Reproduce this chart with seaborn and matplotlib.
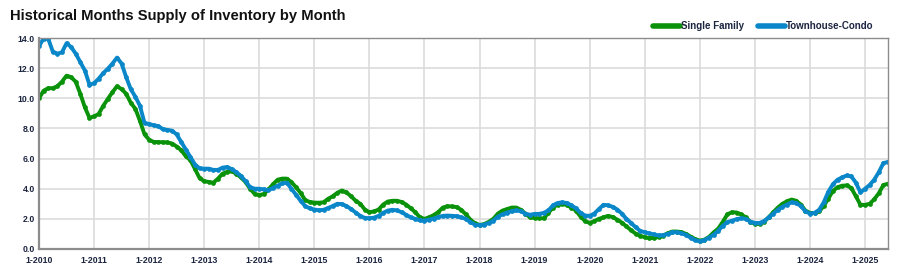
import numpy as np
import pandas as pd
import matplotlib
matplotlib.use("Agg")
import matplotlib.pyplot as plt
from matplotlib.lines import Line2D
import seaborn as sns

# Monthly values, Jan 2010 .. Jun 2025
single_family = [
    10.0, 10.5, 10.67, 10.67, 10.8, 11.1, 11.5, 11.4, 11.1, 10.3, 9.4, 8.7,
    8.8, 8.96, 9.5, 9.96, 10.4, 10.8, 10.6, 10.3, 9.7, 9.3, 8.5, 7.6,
    7.25, 7.1, 7.1, 7.08, 7.07, 7.0, 6.8, 6.55, 6.15, 5.9, 5.3, 4.7,
    4.5, 4.45, 4.4, 4.67, 5.0, 5.12, 5.15, 5.0, 4.75, 4.44, 4.0, 3.65,
    3.58, 3.65, 3.95, 4.3, 4.6, 4.67, 4.67, 4.44, 4.1, 3.72, 3.25, 3.12,
    3.08, 3.07, 3.1, 3.33, 3.5, 3.73, 3.88, 3.75, 3.5, 3.2, 3.0, 2.62,
    2.44, 2.49, 2.62, 2.95, 3.15, 3.2, 3.2, 3.12, 2.95, 2.7, 2.44, 2.1,
    2.0, 2.1, 2.25, 2.45, 2.75, 2.84, 2.82, 2.78, 2.6, 2.3, 1.95, 1.7,
    1.6, 1.65, 1.8, 2.0, 2.35, 2.55, 2.65, 2.75, 2.75, 2.6, 2.35, 2.1,
    2.05, 2.04, 2.04, 2.4, 2.75, 2.95, 3.0, 2.92, 2.75, 2.55, 2.15, 1.85,
    1.73, 1.85, 2.0, 2.1, 2.2, 2.12, 1.95, 1.75, 1.5, 1.25, 1.02, 0.88,
    0.78, 0.72, 0.74, 0.8, 0.88, 1.05, 1.16, 1.16, 1.12, 1.0, 0.82, 0.65,
    0.56, 0.62, 0.8, 1.1, 1.35, 1.8, 2.3, 2.44, 2.42, 2.3, 2.1, 1.8,
    1.68, 1.67, 1.8, 2.1, 2.44, 2.75, 3.0, 3.17, 3.28, 3.2, 2.95, 2.55,
    2.4, 2.38, 2.49, 2.85, 3.35, 3.85, 4.1, 4.2, 4.22, 4.05, 3.5, 2.93,
    2.93, 3.0, 3.3, 3.7, 4.25, 4.33,
]
townhouse_condo = [
    13.47, 13.95, 13.96, 13.1, 12.96, 13.05, 13.65, 13.4, 12.96, 12.4, 11.84, 10.9,
    11.0, 11.3, 11.67, 11.96, 12.3, 12.7, 12.3, 11.4, 10.6, 10.1, 9.5, 8.35,
    8.3, 8.2, 8.15, 7.95, 7.9, 7.85, 7.6, 7.1, 6.6, 6.1, 5.6, 5.35,
    5.33, 5.33, 5.25, 5.25, 5.4, 5.44, 5.3, 5.1, 4.85, 4.5, 4.1, 4.0,
    4.0, 3.95, 3.9, 4.05, 4.2, 4.35, 4.4, 4.0, 3.6, 3.2, 2.85, 2.7,
    2.62, 2.57, 2.6, 2.72, 2.85, 3.0, 2.98, 2.85, 2.65, 2.42, 2.2, 2.06,
    2.04, 2.08, 2.2, 2.4, 2.55, 2.6, 2.56, 2.44, 2.27, 2.1, 2.0, 1.9,
    1.89, 1.95, 2.02, 2.12, 2.2, 2.22, 2.2, 2.18, 2.1, 2.0, 1.78, 1.62,
    1.57, 1.62, 1.72, 1.88, 2.15, 2.3, 2.42, 2.5, 2.56, 2.5, 2.35, 2.27,
    2.33, 2.33, 2.4, 2.56, 2.9, 3.05, 3.1, 3.05, 2.9, 2.7, 2.4, 2.22,
    2.2, 2.35, 2.65, 2.93, 2.9, 2.8, 2.62, 2.35, 2.0, 1.72, 1.45, 1.2,
    1.11, 1.03, 0.97, 0.9, 0.92, 1.0, 1.11, 1.11, 1.05, 0.93, 0.75, 0.58,
    0.5, 0.6, 0.75, 0.95, 1.2, 1.55, 1.78, 1.88, 1.98, 2.04, 2.0, 1.82,
    1.73, 1.73, 1.85, 2.1, 2.35, 2.6, 2.8, 2.95, 3.1, 3.05, 2.85, 2.5,
    2.35, 2.4, 2.6, 3.1, 3.8, 4.3, 4.6, 4.75, 4.88, 4.82, 4.4, 3.75,
    4.0, 4.25, 4.6, 5.1, 5.7, 5.78,
]
series_names = ["Single Family", "Townhouse-Condo"]
years = list(range(2010, 2026))
x_tick_labels = [f"1-{y}" for y in years]
y_ticks = [0, 2, 4, 6, 8, 10, 12, 14]

colors = {"Single Family": "#0a930a", "Townhouse-Condo": "#0a87c9"}

months = np.arange(len(single_family))
df = pd.concat([
    pd.DataFrame({"month": months, "value": single_family, "series": series_names[0]}),
    pd.DataFrame({"month": months, "value": townhouse_condo, "series": series_names[1]}),
])

sns.set_style("white")
plt.rcParams["font.family"] = ["Liberation Sans", "DejaVu Sans"]

fig = plt.figure(figsize=(9.06, 2.70), dpi=100)
ax = fig.add_axes([39 / 906, 1 - 249 / 270, (888 - 39) / 906, (249 - 38) / 270])

sns.lineplot(data=df, x="month", y="value", hue="series", palette=colors,
             hue_order=series_names, linewidth=2.8, marker="o", markersize=3.4,
             markeredgewidth=0, legend=False, ax=ax)

ax.set_xlim(0, len(single_family) - 1)
ax.set_ylim(0, 14)
ax.set_xticks([12 * i for i in range(len(years))])
ax.set_xticklabels(x_tick_labels)
ax.set_yticks(y_ticks)
ax.set_yticklabels([f"{v:.1f}" for v in y_ticks])
ax.set_xlabel("")
ax.set_ylabel("")
ax.grid(True, color="#dcdcdc", linewidth=1.2)
ax.set_axisbelow(True)
for s in ax.spines.values():
    s.set_color("#8c8c8c")
    s.set_linewidth(1.0)
ax.spines["left"].set_linewidth(1.6)
ax.spines["bottom"].set_linewidth(1.6)
ax.tick_params(axis="both", labelsize=6.3, colors="#8c8c8c", labelcolor="#1c2540",
               length=3, width=1, pad=2)
ax.tick_params(axis="y", length=0, pad=3)
for lbl in ax.get_xticklabels() + ax.get_yticklabels():
    lbl.set_fontweight("bold")

fig.text(10 / 906, 1 - 16 / 270, "Historical Months Supply of Inventory by Month",
         fontsize=10.6, fontweight="bold", color="#111111", va="center", ha="left",
         family=["Liberation Sans Narrow", "Liberation Sans", "DejaVu Sans"])

handles = [Line2D([0], [0], color=colors[n], lw=4, solid_capstyle="round") for n in series_names]
leg = fig.legend(handles, series_names, loc="center left",
                 bbox_to_anchor=(653 / 906, 1 - 26 / 270), ncol=2, frameon=False,
                 fontsize=7.0, handlelength=2.75, handletextpad=0.1, columnspacing=1.5,
                 borderpad=0, borderaxespad=0)
for t in leg.get_texts():
    t.set_fontweight("bold")
    t.set_color("#1c2540")

fig.savefig("out.png", dpi=100)
